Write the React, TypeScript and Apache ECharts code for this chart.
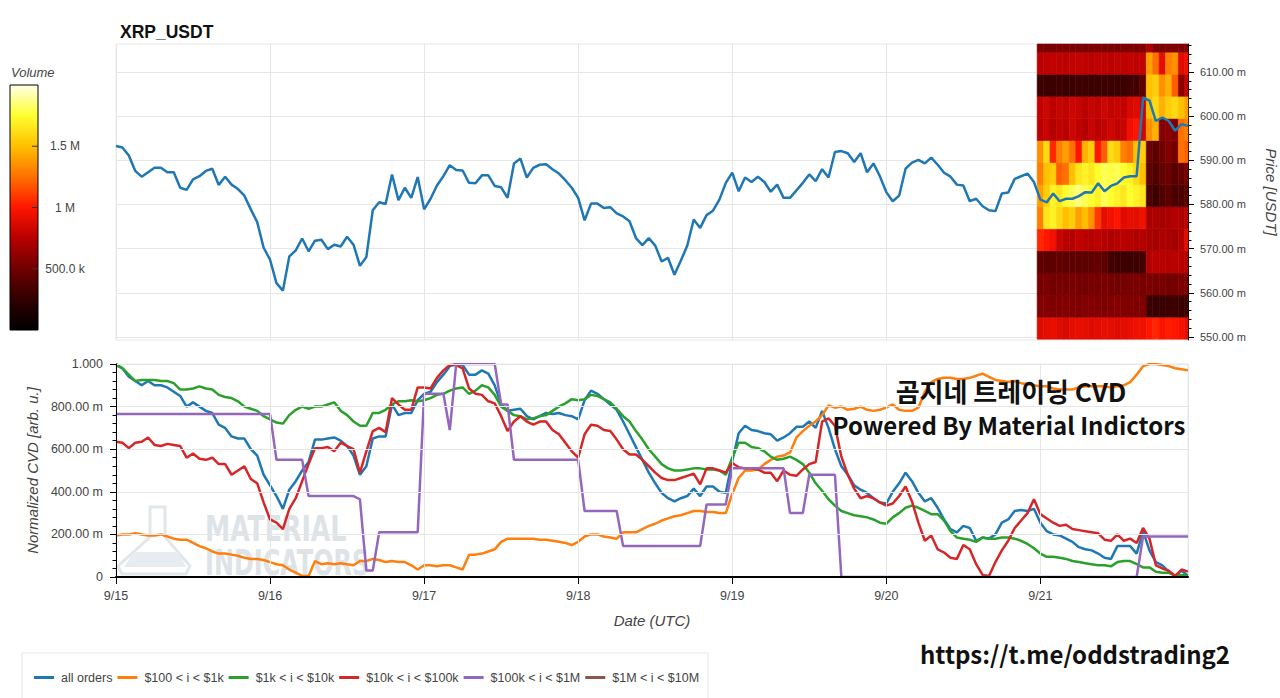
import React, { useEffect, useRef } from "react";
import * as echarts from "echarts";

// ---------- data ----------
const START = Date.UTC(2024, 8, 15); // 2024-09-15 00:00 UTC
const HOUR = 3600000;
const DAY = 86400000;
const LAST_HOUR = 167;

const title = "XRP_USDT";

// hourly XRP price, milli-USDT
const price = [
  593.25, 592.9, 591.1, 587.6, 586.3, 587.3, 588.3, 588.3, 587.3, 587.3,
  583.8, 583.3, 585.7, 586.4, 587.6, 588.1, 584.4, 586.3, 584.5, 583.5,
  582.0, 578.9, 576.0, 570.2, 567.5, 562.2, 560.5, 568.25, 569.6, 572.3,
  569.4, 571.8, 572.0, 569.9, 570.9, 570.5, 572.7, 570.9, 566.1, 568.1,
  578.7, 580.5, 580.1, 586.8, 581.0, 583.8, 581.5, 586.2, 578.9, 581.3,
  584.3, 586.4, 588.9, 587.8, 587.7, 584.9, 584.8, 586.6, 586.6, 584.2,
  583.9, 581.5, 589.3, 590.4, 586.1, 588.3, 589.0, 589.1, 588.0, 587.0,
  585.5, 583.8, 581.5, 576.4, 580.2, 580.2, 579.2, 579.4, 578.0, 577.3,
  576.2, 572.4, 570.8, 572.4, 570.7, 567.1, 567.9, 564.1, 567.3, 570.7,
  576.6, 574.7, 577.6, 578.6, 581.1, 584.9, 587.2, 583.0, 586.1, 585.1,
  586.3, 585.1, 582.9, 584.5, 581.5, 581.5, 583.2, 584.9, 586.8, 585.3,
  588.0, 586.1, 591.9, 592.1, 591.6, 589.6, 591.6, 587.3, 589.3, 586.4,
  582.8, 580.75, 582.0, 588.1, 589.5, 590.1, 589.3, 590.6, 589.0, 587.2,
  586.3, 584.5, 584.3, 580.75, 581.3, 579.6, 578.7, 578.5, 582.5, 582.7,
  585.8, 586.4, 587.0, 585.1, 581.1, 580.5, 582.5, 580.75, 581.3, 581.3,
  581.9, 582.8, 582.7, 584.8, 583.0, 584.2, 584.8, 586.1, 586.4, 586.4,
  604.2, 603.5, 598.9, 599.7, 598.9, 596.7, 598.2, 597.8,
];

const cvdAll = [
  0.995, 0.98, 0.94, 0.92, 0.90, 0.92, 0.90, 0.90, 0.89, 0.87,
  0.85, 0.80, 0.82, 0.80, 0.78, 0.77, 0.715, 0.70, 0.66, 0.65,
  0.65, 0.60, 0.57, 0.48, 0.43, 0.38, 0.32, 0.41, 0.45, 0.50,
  0.54, 0.645, 0.645, 0.65, 0.655, 0.64, 0.615, 0.57, 0.48, 0.52,
  0.65, 0.66, 0.66, 0.81, 0.76, 0.77, 0.77, 0.83, 0.86, 0.87,
  0.915, 0.95, 0.99, 1.0, 0.995, 0.95, 0.95, 0.97, 0.955, 0.90,
  0.81, 0.78, 0.785, 0.79, 0.755, 0.74, 0.755, 0.77, 0.765, 0.77,
  0.76, 0.755, 0.74, 0.83, 0.875, 0.86, 0.835, 0.81, 0.785, 0.73,
  0.67, 0.61, 0.55, 0.49, 0.44, 0.395, 0.37, 0.355, 0.37, 0.38,
  0.415, 0.38, 0.425, 0.425, 0.40, 0.395, 0.545, 0.675, 0.71, 0.69,
  0.685, 0.675, 0.67, 0.64, 0.655, 0.675, 0.705, 0.705, 0.73, 0.70,
  0.78, 0.70, 0.60, 0.52, 0.48, 0.43, 0.41, 0.395, 0.37, 0.35,
  0.345, 0.40, 0.44, 0.49, 0.45, 0.395, 0.355, 0.37, 0.325, 0.27,
  0.225, 0.21, 0.24, 0.23, 0.17, 0.185, 0.18, 0.20, 0.255, 0.27,
  0.31, 0.315, 0.31, 0.32, 0.255, 0.215, 0.20, 0.195, 0.18, 0.165,
  0.14, 0.13, 0.125, 0.11, 0.09, 0.085, 0.145, 0.145, 0.145, 0.11,
  0.215, 0.125, 0.07, 0.055, 0.025, 0.005, 0.03, 0.005,
];

const cvd100to1k = [
  0.195, 0.20, 0.20, 0.205, 0.20, 0.195, 0.195, 0.20, 0.19, 0.18,
  0.175, 0.175, 0.16, 0.145, 0.135, 0.12, 0.11, 0.11, 0.105, 0.10,
  0.09, 0.085, 0.085, 0.08, 0.07, 0.06, 0.055, 0.035, 0.02, 0.005,
  0.005, 0.075, 0.06, 0.065, 0.06, 0.065, 0.06, 0.055, 0.075, 0.075,
  0.085, 0.08, 0.07, 0.075, 0.07, 0.07, 0.055, 0.035, 0.055, 0.055,
  0.05, 0.055, 0.055, 0.045, 0.035, 0.105, 0.105, 0.11, 0.12, 0.13,
  0.165, 0.18, 0.18, 0.18, 0.18, 0.18, 0.175, 0.175, 0.17, 0.165,
  0.16, 0.15, 0.165, 0.19, 0.20, 0.20, 0.19, 0.185, 0.18, 0.21,
  0.21, 0.21, 0.225, 0.24, 0.25, 0.265, 0.275, 0.285, 0.29, 0.30,
  0.31, 0.31, 0.305, 0.305, 0.30, 0.30, 0.39, 0.465, 0.50, 0.50,
  0.505, 0.53, 0.55, 0.565, 0.57, 0.585, 0.655, 0.685, 0.71, 0.73,
  0.76, 0.805, 0.795, 0.80, 0.785, 0.79, 0.80, 0.785, 0.78, 0.785,
  0.795, 0.81, 0.785, 0.78, 0.78, 0.795, 0.87, 0.915, 0.93, 0.935,
  0.935, 0.93, 0.93, 0.935, 0.945, 0.955, 0.94, 0.925, 0.92, 0.915,
  0.92, 0.91, 0.905, 0.90, 0.895, 0.895, 0.885, 0.88, 0.88, 0.88,
  0.89, 0.895, 0.895, 0.895, 0.895, 0.89, 0.895, 0.90, 0.915, 0.95,
  0.99, 1.0, 1.0, 0.995, 0.99, 0.98, 0.975, 0.97,
];

const cvd1kto10k = [
  1.0, 0.98, 0.95, 0.92, 0.925, 0.925, 0.925, 0.92, 0.92, 0.91,
  0.88, 0.88, 0.885, 0.895, 0.885, 0.88, 0.855, 0.845, 0.84, 0.825,
  0.80, 0.79, 0.78, 0.755, 0.74, 0.725, 0.72, 0.76, 0.785, 0.80,
  0.79, 0.80, 0.80, 0.81, 0.82, 0.78, 0.76, 0.73, 0.71, 0.71,
  0.77, 0.77, 0.785, 0.81, 0.825, 0.825, 0.83, 0.825, 0.83, 0.84,
  0.855, 0.86, 0.875, 0.885, 0.89, 0.86, 0.875, 0.90, 0.89, 0.855,
  0.80, 0.78, 0.76, 0.755, 0.74, 0.745, 0.755, 0.76, 0.78, 0.80,
  0.815, 0.835, 0.83, 0.835, 0.855, 0.85, 0.835, 0.82, 0.79, 0.755,
  0.73, 0.685, 0.645, 0.60, 0.565, 0.53, 0.51, 0.50, 0.50, 0.505,
  0.51, 0.51, 0.505, 0.505, 0.50, 0.48, 0.56, 0.63, 0.63, 0.61,
  0.605, 0.59, 0.565, 0.55, 0.555, 0.565, 0.55, 0.53, 0.49, 0.44,
  0.405, 0.365, 0.335, 0.31, 0.30, 0.29, 0.285, 0.28, 0.27, 0.255,
  0.25, 0.28, 0.30, 0.325, 0.335, 0.325, 0.31, 0.295, 0.295, 0.265,
  0.215, 0.185, 0.18, 0.175, 0.165, 0.185, 0.18, 0.18, 0.185, 0.185,
  0.18, 0.17, 0.155, 0.135, 0.11, 0.095, 0.095, 0.09, 0.085, 0.075,
  0.07, 0.065, 0.06, 0.055, 0.055, 0.05, 0.07, 0.075, 0.075, 0.06,
  0.045, 0.045, 0.025, 0.02, 0.02, 0.005, 0.01, 0.005,
];

const cvd10kto100k = [
  0.635, 0.63, 0.605, 0.63, 0.635, 0.655, 0.62, 0.615, 0.625, 0.62,
  0.615, 0.56, 0.58, 0.555, 0.55, 0.56, 0.53, 0.53, 0.48, 0.50,
  0.52, 0.46, 0.44, 0.35, 0.27, 0.255, 0.225, 0.32, 0.37, 0.45,
  0.53, 0.605, 0.605, 0.61, 0.59, 0.63, 0.615, 0.60, 0.49, 0.59,
  0.685, 0.70, 0.68, 0.84, 0.81, 0.785, 0.785, 0.89, 0.89, 0.885,
  0.935, 0.97, 0.995, 0.995, 0.98, 0.885, 0.86, 0.855, 0.825, 0.815,
  0.755, 0.685, 0.73, 0.755, 0.73, 0.715, 0.73, 0.73, 0.69, 0.67,
  0.63, 0.59, 0.56, 0.67, 0.715, 0.71, 0.69, 0.685, 0.645, 0.60,
  0.575, 0.575, 0.55, 0.52, 0.49, 0.465, 0.455, 0.455, 0.465, 0.475,
  0.485, 0.435, 0.51, 0.51, 0.50, 0.49, 0.535, 0.515, 0.51, 0.51,
  0.505, 0.49, 0.49, 0.45, 0.50, 0.48, 0.475, 0.505, 0.53, 0.54,
  0.73, 0.745, 0.71, 0.565, 0.48, 0.415, 0.37, 0.38, 0.37, 0.35,
  0.335, 0.345, 0.38, 0.425, 0.355, 0.255, 0.17, 0.195, 0.13, 0.115,
  0.09, 0.085, 0.15, 0.13, 0.06, 0.01, 0.005, 0.07, 0.125, 0.17,
  0.23, 0.265, 0.30, 0.365, 0.295, 0.275, 0.255, 0.24, 0.245, 0.225,
  0.22, 0.215, 0.21, 0.205, 0.175, 0.17, 0.20, 0.17, 0.18, 0.16,
  0.23, 0.18, 0.055, 0.04, 0.03, 0.005, 0.035, 0.025,
];

const cvd100kto1M = [
  0.765, 0.765, 0.765, 0.765, 0.765, 0.765, 0.765, 0.765, 0.765, 0.765,
  0.765, 0.765, 0.765, 0.765, 0.765, 0.765, 0.765, 0.765, 0.765, 0.765,
  0.765, 0.765, 0.765, 0.765, 0.765, 0.55, 0.55, 0.55, 0.55, 0.55,
  0.38, 0.38, 0.38, 0.38, 0.38, 0.38, 0.38, 0.38, 0.365, 0.03,
  0.03, 0.21, 0.21, 0.21, 0.21, 0.21, 0.21, 0.21, 0.86, 0.86,
  0.86, 0.86, 0.69, 1.0, 1.0, 1.0, 1.0, 1.0, 1.0, 1.0,
  0.81, 0.81, 0.55, 0.55, 0.55, 0.55, 0.55, 0.55, 0.55, 0.55,
  0.55, 0.55, 0.55, 0.31, 0.31, 0.31, 0.31, 0.31, 0.31, 0.145,
  0.145, 0.145, 0.145, 0.145, 0.145, 0.145, 0.145, 0.145, 0.145, 0.145,
  0.145, 0.145, 0.34, 0.34, 0.34, 0.34, 0.51, 0.51, 0.51, 0.51,
  0.51, 0.51, 0.51, 0.51, 0.51, 0.30, 0.30, 0.30, 0.48, 0.48,
  0.48, 0.48, 0.48, 0.0, 0.0, 0.0, 0.0, 0.0, 0.0, 0.0,
  0.0, 0.0, 0.0, 0.0, 0.0, 0.0, 0.0, 0.0, 0.0, 0.0,
  0.0, 0.0, 0.0, 0.0, 0.0, 0.0, 0.0, 0.0, 0.0, 0.0,
  0.0, 0.0, 0.0, 0.0, 0.0, 0.0, 0.0, 0.0, 0.0, 0.0,
  0.0, 0.0, 0.0, 0.0, 0.0, 0.0, 0.0, 0.0, 0.0, 0.0,
  0.19, 0.19, 0.19, 0.19, 0.19, 0.19, 0.19, 0.19,
];

const cvd1Mto10M: number[] = [];

const seriesNames = [
  "all orders",
  "$100 < i < $1k",
  "$1k < i < $10k",
  "$10k < i < $100k",
  "$100k < i < $1M",
  "$1M < i < $10M",
];
const seriesColors = ["#1f77b4", "#ff7f0e", "#2ca02c", "#d62728", "#9467bd", "#8c564b"];

// volume heatmap: bin centres (milli-USDT), hours, volumes (thousands)
const heatPrices = [552, 557, 562, 567, 572, 577, 582, 587, 592, 597, 602, 607, 612, 617];
const heatHours = [144, 145, 146, 147, 148, 149, 150, 151, 152, 153, 154, 155, 156, 157, 158, 159, 160, 161, 162, 163, 164, 165, 166, 167];
const heatVolume = [
  [880, 900, 920, 880, 860, 900, 920, 900, 880, 900, 920, 900, 880, 900, 920, 940, 950, 1000, 1050, 980, 1020, 1000, 960, 900],
  [560, 570, 550, 560, 570, 560, 550, 560, 570, 560, 550, 560, 570, 560, 560, 550, 560, 300, 280, 290, 300, 310, 290, 300],
  [520, 540, 510, 530, 520, 540, 520, 510, 530, 520, 540, 520, 510, 520, 530, 540, 520, 540, 520, 530, 510, 520, 540, 530],
  [440, 420, 430, 450, 420, 440, 430, 420, 440, 450, 430, 330, 300, 310, 300, 310, 320, 740, 760, 750, 740, 760, 750, 740],
  [1050, 1000, 950, 800, 760, 740, 780, 760, 740, 770, 750, 720, 740, 760, 740, 720, 740, 700, 680, 720, 700, 680, 740, 900],
  [1300, 1650, 1700, 1600, 1500, 1550, 1400, 1500, 1350, 1100, 900, 950, 1000, 880, 920, 900, 950, 700, 720, 680, 700, 740, 720, 760],
  [1400, 1550, 1700, 1650, 1750, 1800, 1850, 1800, 1750, 1700, 1800, 1750, 1700, 1650, 1750, 1700, 1650, 350, 300, 380, 420, 350, 360, 400],
  [1300, 1500, 1550, 1200, 1250, 1500, 1650, 1700, 1650, 1750, 1800, 1780, 1800, 1750, 1700, 1600, 1500, 420, 380, 450, 480, 400, 460, 520],
  [1350, 1600, 1050, 1300, 1400, 1250, 1000, 1450, 1550, 1000, 1200, 1600, 1550, 1300, 1250, 1500, 1550, 480, 420, 500, 560, 520, 1250, 1200],
  [760, 800, 740, 780, 760, 820, 780, 740, 800, 760, 780, 820, 780, 800, 950, 1000, 820, 1350, 1450, 560, 600, 540, 1250, 1300],
  [780, 820, 760, 800, 780, 820, 800, 760, 800, 780, 820, 790, 800, 780, 860, 880, 800, 1500, 1600, 1450, 1550, 1600, 1500, 1400],
  [300, 290, 300, 310, 290, 300, 310, 300, 290, 300, 310, 300, 290, 300, 320, 330, 420, 1500, 1550, 1350, 1450, 1200, 600, 800],
  [760, 770, 780, 770, 760, 780, 790, 770, 760, 780, 770, 760, 780, 770, 790, 770, 780, 1400, 1250, 900, 1300, 1350, 880, 950],
  [540, 540, 530, 540, 550, 540, 540, 530, 540, 550, 540, 540, 530, 540, 550, 540, 560, 700, 560, 540, 560, 560, 540, 560],
];
const VOL_MAX = 2000000;
const volumeTicks = [500000, 1000000, 1500000];
const volumeTickLabels = ["500.0 k", "1 M", "1.5 M"];
const heatColors = ["#000000", "#300000", "#700000", "#b80000", "#ff1500", "#ff7000", "#ffc000", "#ffff30", "#ffffe8"];

const priceMajorTicks = [550, 560, 570, 580, 590, 600, 610];
const cvdLabels = ["0", "200.00 m", "400.00 m", "600.00 m", "800.00 m", "1.000"];

// ---------- component ----------
const FONT = "'Liberation Sans', Arial, Helvetica, sans-serif";
const t = (h: number) => START + h * HOUR;
const toSeries = (arr: number[]) => arr.map((v, h) => [t(h), v]);

export default function App() {
  const ref = useRef<HTMLDivElement>(null);

  useEffect(() => {
    if (!ref.current) return;
    const chart = echarts.init(ref.current, undefined, { renderer: "svg" });

    const heatData: number[][] = [];
    heatVolume.forEach((row, r) => {
      row.forEach((v, c) => {
        heatData.push([t(heatHours[c]), heatPrices[r] / 1000, v * 1000]);
      });
    });

    const minorTicks: number[] = [];
    for (let m = 550; m <= 616; m += 2) {
      if (m % 10 !== 0) minorTicks.push(m / 1000);
    }

    const cvd = [cvdAll, cvd100to1k, cvd1kto10k, cvd10kto100k, cvd100kto1M, cvd1Mto10M];

    // colorbar geometry
    const cbX = 10, cbY = 85, cbW = 28, cbH = 245;
    const cbYFor = (v: number) => cbY + cbH - (v / VOL_MAX) * cbH;
    const gradStops = heatColors
      .map((c, i) => ({ offset: 1 - i / (heatColors.length - 1), color: c }))
      .reverse();

    const graphics: any[] = [
      // colorbar
      {
        type: "text",
        left: 11,
        top: 66,
        style: { text: "Volume", fill: "#444", font: `italic 13px ${FONT}` },
      },
      {
        type: "rect",
        shape: { x: cbX, y: cbY, width: cbW, height: cbH },
        style: {
          fill: new echarts.graphic.LinearGradient(0, 0, 0, 1, gradStops),
          stroke: "#000",
          lineWidth: 1,
        },
      },
      ...volumeTicks.map((v) => ({
        type: "line",
        shape: { x1: cbX + cbW - 6, y1: cbYFor(v), x2: cbX + cbW, y2: cbYFor(v) },
        style: { stroke: "#333", lineWidth: 1 },
      })),
      ...volumeTicks.map((v, i) => ({
        type: "text",
        x: 65,
        y: cbYFor(v),
        style: {
          text: volumeTickLabels[i],
          fill: "#444",
          font: `12px ${FONT}`,
          align: "center",
          verticalAlign: "middle",
        },
      })),
      // watermark
      {
        type: "polygon",
        z: 1,
        shape: { points: [[150, 507], [165, 507], [165, 537], [190, 566], [186, 574], [122, 574], [118, 566], [150, 537]] },
        style: { fill: "none", stroke: "#e1e7ea", lineWidth: 3 },
      },
      {
        type: "polygon",
        z: 1,
        shape: { points: [[134, 552], [178, 552], [186, 567], [124, 567]] },
        style: { fill: "#e6ecef" },
      },
      {
        type: "text",
        z: 1,
        x: 205,
        y: 511,
        scaleX: 0.78,
        style: { text: "MATERIAL", fill: "#dde3e6", font: `bold 36px 'DejaVu Sans Condensed', 'DejaVu Sans', sans-serif` },
      },
      {
        type: "text",
        z: 1,
        x: 205,
        y: 544,
        scaleX: 0.74,
        style: { text: "INDICATORS", fill: "#dde3e6", font: `bold 36px 'DejaVu Sans Condensed', 'DejaVu Sans', sans-serif` },
      },
      // overlay texts
      {
        type: "text",
        z: 100,
        x: 1011,
        y: 390,
        style: {
          text: "곰지네 트레이딩 CVD",
          fill: "#111",
          font: `bold 26px 'Noto Sans CJK KR', sans-serif`,
          align: "center",
          verticalAlign: "middle",
        },
      },
      {
        type: "text",
        z: 100,
        x: 1009,
        y: 424,
        style: {
          text: "Powered By Material Indictors",
          fill: "#111",
          font: `bold 24px 'Noto Sans CJK KR', sans-serif`,
          align: "center",
          verticalAlign: "middle",
        },
      },
      {
        type: "text",
        z: 100,
        x: 1075,
        y: 653,
        style: {
          text: "https://t.me/oddstrading2",
          fill: "#111",
          font: `bold 24px 'Noto Sans CJK KR', sans-serif`,
          align: "center",
          verticalAlign: "middle",
        },
      },
      // legend box
      {
        type: "rect",
        z: 0,
        shape: { x: 22, y: 653, width: 686, height: 60 },
        style: { fill: "#fff", stroke: "#e8e8e8", lineWidth: 1 },
      },
    ];

    const gridLine = { show: true, lineStyle: { color: "#e6e6e6", width: 1 } };

    const option: any = {
      animation: false,
      textStyle: { fontFamily: FONT },
      title: {
        text: title,
        left: 115,
        top: 18,
        textStyle: { fontSize: 17.5, fontWeight: "bold", color: "#111", fontFamily: FONT },
      },
      legend: {
        left: 29,
        top: 666,
        icon: "rect",
        itemWidth: 20,
        itemHeight: 3,
        itemGap: 5,
        data: seriesNames,
        textStyle: { fontSize: 12.5, color: "#444", fontFamily: FONT, padding: [0, 0, 0, 2] },
        z: 10,
      },
      grid: [
        { left: 116, top: 44, width: 1072, height: 296, show: true, borderColor: "#e8e8e8", borderWidth: 1, outerBoundsMode: "none", containLabel: false },
        { left: 116, top: 364, width: 1072, height: 213, show: true, borderColor: "#e8e8e8", borderWidth: 1, outerBoundsMode: "none", containLabel: false },
      ],
      visualMap: {
        type: "continuous",
        show: false,
        min: 0,
        max: VOL_MAX,
        dimension: 2,
        seriesIndex: 0,
        inRange: { color: heatColors },
      },
      xAxis: [
        {
          gridIndex: 0,
          type: "value",
          min: START,
          max: t(LAST_HOUR),
          interval: DAY,
          axisLine: { show: false },
          axisTick: { show: false },
          axisLabel: { show: false },
          splitLine: gridLine,
        },
        {
          gridIndex: 1,
          type: "value",
          z: 10,
          min: START,
          max: t(LAST_HOUR),
          interval: DAY,
          axisLine: { show: true, onZero: false, lineStyle: { color: "#000", width: 2 } },
          axisTick: { show: true, length: 7, lineStyle: { color: "#000" } },
          axisLabel: {
            color: "#444",
            fontSize: 12.5,
            margin: 12,
            showMaxLabel: false,
            formatter: (v: number) => {
              const d = new Date(v);
              return `${d.getUTCMonth() + 1}/${d.getUTCDate()}`;
            },
          },
          splitLine: gridLine,
          name: "Date (UTC)",
          nameLocation: "middle",
          nameGap: 36,
          nameTextStyle: { fontStyle: "italic", color: "#444", fontSize: 15 },
        },
      ],
      yAxis: [
        {
          gridIndex: 0,
          type: "value",
          position: "right",
          min: 0.54932,
          max: 0.61634,
          axisLine: { show: true, lineStyle: { color: "#000", width: 1 } },
          axisTick: { show: true, length: 6, customValues: priceMajorTicks.map((v) => v / 1000), lineStyle: { color: "#000" } },
          axisLabel: {
            customValues: priceMajorTicks.map((v) => v / 1000),
            color: "#444",
            fontSize: 11,
            margin: 12,
            formatter: (v: number) => `${(v * 1000).toFixed(2)} m`,
          },
          splitLine: gridLine,
          name: "Price [USDT]",
          nameLocation: "middle",
          nameRotate: -90,
          nameGap: 76,
          nameTextStyle: { fontStyle: "italic", color: "#444", fontSize: 15 },
        },
        {
          gridIndex: 0,
          type: "value",
          position: "right",
          min: 0.54932,
          max: 0.61634,
          axisLine: { show: false },
          axisTick: { show: true, length: 3.5, customValues: minorTicks, lineStyle: { color: "#000" } },
          axisLabel: { show: false },
          splitLine: { show: false },
        },
        {
          gridIndex: 1,
          type: "value",
          z: 10,
          min: 0,
          max: 1,
          interval: 0.2,
          axisLine: { show: true, lineStyle: { color: "#000", width: 1 } },
          axisTick: { show: true, length: 6, lineStyle: { color: "#000" } },
          minorTick: { show: true, splitNumber: 5, length: 3.5, lineStyle: { color: "#000" } },
          axisLabel: {
            color: "#444",
            fontSize: 12.5,
            margin: 13,
            formatter: (v: number) => cvdLabels[Math.round(v * 5)],
          },
          splitLine: gridLine,
          name: "Normalized CVD [arb. u.]",
          nameLocation: "middle",
          nameRotate: 90,
          nameGap: 74,
          nameTextStyle: { fontStyle: "italic", color: "#444", fontSize: 15 },
        },
      ],
      series: [
        {
          type: "custom",
          xAxisIndex: 0,
          yAxisIndex: 0,
          data: heatData,
          encode: { x: 0, y: 1 },
          renderItem: (params: any, api: any) => {
            const tc = api.value(0);
            const pc = api.value(1);
            const p0 = api.coord([tc - HOUR / 2, pc + 0.0025]);
            const p1 = api.coord([tc + HOUR / 2, pc - 0.0025]);
            const cs = params.coordSys;
            const rect = echarts.graphic.clipRectByRect(
              { x: p0[0], y: p0[1], width: p1[0] - p0[0], height: p1[1] - p0[1] },
              { x: cs.x, y: cs.y, width: cs.width, height: cs.height }
            );
            if (!rect) return null;
            const color = api.visual("color");
            return {
              type: "rect",
              shape: rect,
              style: { fill: color, stroke: color, lineWidth: 0.6 },
            };
          },
        },
        {
          type: "line",
          name: "price",
          xAxisIndex: 0,
          yAxisIndex: 0,
          data: price.map((v, h) => [t(h), v / 1000]),
          showSymbol: false,
          symbol: "none",
          lineStyle: { color: "#1f77b4", width: 2.5 },
          z: 3,
        },
        ...seriesNames.map((name, i) => ({
          type: "line",
          name,
          xAxisIndex: 1,
          yAxisIndex: 2,
          data: toSeries(cvd[i]),
          showSymbol: false,
          symbol: "none",
          color: seriesColors[i],
          lineStyle: { color: seriesColors[i], width: 2.5 },
          z: 3,
        })),
      ],
      graphic: graphics,
    };

    chart.setOption(option);
    return () => chart.dispose();
  }, []);

  return (
    <div
      ref={ref}
      style={{ position: "absolute", left: 0, top: 0, width: 1280, height: 698, background: "#fff" }}
    />
  );
}
